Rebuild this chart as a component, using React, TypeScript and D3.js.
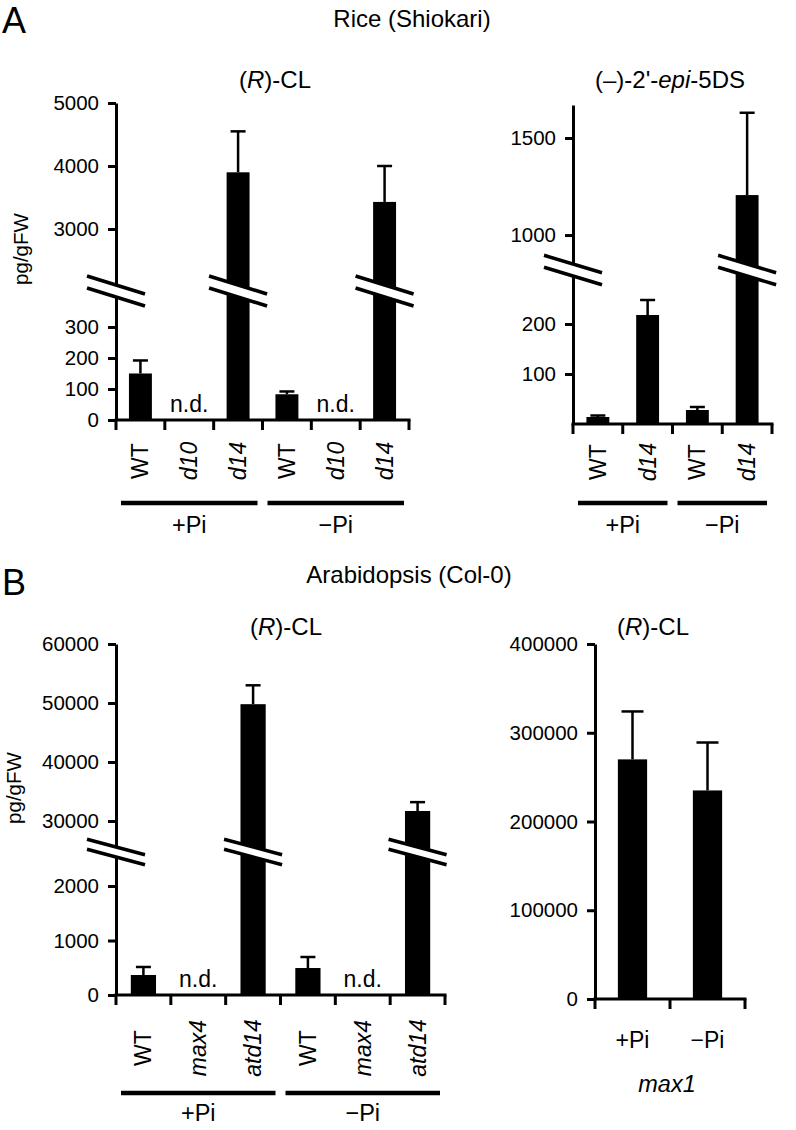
import React, { useEffect, useRef } from "react";
import * as d3 from "d3";

const FONT = "'Liberation Sans', Arial, Helvetica, sans-serif";

// ---- data (pg/gFW), null = n.d.
const groups = ["+Pi", "\u2212Pi"];

const riceCLCats = ["WT", "d10", "d14", "WT", "d10", "d14"];
const riceCL = [150, null, 3900, 83, null, 3430];
const riceCLErr = [192, null, 4550, 92, null, 4000];
const riceCLLowTicks = [0, 100, 200, 300];
const riceCLHighTicks = [3000, 4000, 5000];

const riceEpiCats = ["WT", "d14", "WT", "d14"];
const riceEpi = [14, 218, 28, 1206];
const riceEpiErr = [17, 248, 34, 1630];
const riceEpiLowTicks = [100, 200];
const riceEpiHighTicks = [1000, 1500];

const arabCLCats = ["WT", "max4", "atd14", "WT", "max4", "atd14"];
const arabCL = [367, null, 49800, 495, null, 31700];
const arabCLErr = [514, null, 53000, 697, null, 33200];
const arabCLLowTicks = [0, 1000, 2000];
const arabCLHighTicks = [30000, 40000, 50000, 60000];

const max1Cats = ["+Pi", "\u2212Pi"];
const max1CL = [270000, 235000];
const max1Err = [324000, 289000];
const max1Ticks = [0, 100000, 200000, 300000, 400000];

function YAxis({ scale, ticks, x }) {
  const ref = useRef(null);
  useEffect(() => {
    const g = d3.select(ref.current);
    g.call(
      d3.axisLeft(scale).tickValues(ticks).tickSize(8).tickSizeOuter(0).tickPadding(9).tickFormat(d3.format("d"))
    );
    g.attr("font-size", null).attr("font-family", null);
    g.selectAll("path, line").attr("stroke", "#000").attr("stroke-width", 3);
    g.selectAll("text").attr("fill", "#000");
  }, [scale, ticks]);
  return <g ref={ref} transform={`translate(${x},0)`} />;
}

function BreakMark({ cx, cy, half, slope, gap }) {
  const s = half * slope;
  const pts = [
    [cx - half, cy - s - gap / 2],
    [cx + half, cy + s - gap / 2],
    [cx + half, cy + s + gap / 2],
    [cx - half, cy - s + gap / 2],
  ];
  return (
    <g>
      <polygon points={pts.map((p) => p.join(",")).join(" ")} fill="#fff" />
      <line x1={pts[0][0]} y1={pts[0][1]} x2={pts[1][0]} y2={pts[1][1]} stroke="#000" strokeWidth={3.5} />
      <line x1={pts[3][0]} y1={pts[3][1]} x2={pts[2][0]} y2={pts[2][1]} stroke="#000" strokeWidth={3.5} />
    </g>
  );
}

function Panel(props) {
  const {
    cats, values, errs, xRange, yLow, yHigh, lowTicks, highTicks, brk,
    pad, capW, rotate, catY, groupY, groupLabelY,
  } = props;
  const idx = d3.range(cats.length);
  const xStep = d3.scaleBand().domain(idx).range(xRange);
  const xBar = d3.scaleBand().domain(idx).range(xRange).paddingInner(pad).paddingOuter(pad / 2);
  const lowMax = yLow.domain()[1];
  const y = (v) => (yHigh && v > lowMax ? yHigh(v) : yLow(v));
  const base = yLow(0);
  const axisX = xRange[0];
  const tall = idx.filter((i) => yHigh && values[i] != null && values[i] > lowMax);
  const half = cats.length / 2;

  return (
    <g>
      <YAxis scale={yLow} ticks={lowTicks} x={axisX} />
      {yHigh && <YAxis scale={yHigh} ticks={highTicks} x={axisX} />}
      {idx.map((i) =>
        values[i] == null ? (
          <text key={i} x={xStep(i) + xStep.bandwidth() / 2} y={base - 8} textAnchor="middle" fontSize={23}>
            n.d.
          </text>
        ) : (
          <g key={i}>
            <line
              x1={xBar(i) + xBar.bandwidth() / 2}
              x2={xBar(i) + xBar.bandwidth() / 2}
              y1={y(values[i])}
              y2={y(errs[i])}
              stroke="#000"
              strokeWidth={2.5}
            />
            <line
              x1={xBar(i) + xBar.bandwidth() / 2 - capW / 2}
              x2={xBar(i) + xBar.bandwidth() / 2 + capW / 2}
              y1={y(errs[i])}
              y2={y(errs[i])}
              stroke="#000"
              strokeWidth={2.5}
            />
            <rect x={xBar(i)} y={y(values[i])} width={xBar.bandwidth()} height={base - y(values[i])} fill="#000" />
          </g>
        )
      )}
      {/* x axis with ticks at category boundaries */}
      <line x1={axisX - 1.5} x2={xRange[1] + 1.5} y1={base} y2={base} stroke="#000" strokeWidth={3} />
      {[...idx.map((i) => xStep(i)), xRange[1]].map((t, k) => (
        <line key={k} x1={t} x2={t} y1={base} y2={base + 10} stroke="#000" strokeWidth={3} />
      ))}
      {brk && (
        <g>
          <BreakMark cx={axisX} cy={brk.y} half={29} slope={brk.slope} gap={brk.gap} />
          {tall.map((i) => (
            <BreakMark key={i} cx={xBar(i) + xBar.bandwidth() / 2} cy={brk.y} half={29} slope={brk.slope} gap={brk.gap} />
          ))}
        </g>
      )}
      {idx.map((i) => {
        const cx = xStep(i) + xStep.bandwidth() / 2;
        const it = cats[i] !== "WT" && !groups.includes(cats[i]);
        return rotate ? (
          <text
            key={i}
            transform={`translate(${cx},${catY}) rotate(-90)`}
            dy="0.35em"
            textAnchor="middle"
            fontSize={23}
            fontStyle={it ? "italic" : "normal"}
          >
            {cats[i]}
          </text>
        ) : (
          <text key={i} x={cx} y={catY} textAnchor="middle" fontSize={23}>
            {cats[i]}
          </text>
        );
      })}
      {groupY != null &&
        groups.map((gname, k) => {
          const a = xStep(k * half);
          const b = xStep(k * half + half - 1) + xStep.bandwidth();
          return (
            <g key={gname}>
              <line x1={a + 5} x2={b - 5} y1={groupY} y2={groupY} stroke="#000" strokeWidth={4.5} />
              <text x={(a + b) / 2} y={groupLabelY} textAnchor="middle" fontSize={23.5}>
                {gname}
              </text>
            </g>
          );
        })}
    </g>
  );
}

export default function App() {
  // Panel A left
  const aLow = d3.scaleLinear().domain([0, 416]).range([420, 291]);
  const aHigh = d3.scaleLinear().domain([2016, 5000]).range([291, 103]);
  // Panel A right
  const a2Low = d3.scaleLinear().domain([0, 308]).range([424, 270]);
  const a2High = d3.scaleLinear().domain([820, 1670]).range([270, 105]);
  // Panel B left
  const bLow = d3.scaleLinear().domain([0, 2624]).range([995, 852]);
  const bHigh = d3.scaleLinear().domain([24750, 60000]).range([852, 644]);
  // Panel B right
  const b2 = d3.scaleLinear().domain([0, 400000]).range([999, 644]);

  return (
    <div style={{ position: "absolute", left: 0, top: 0 }}>
      <svg width={796} height={1130} style={{ display: "block", background: "#fff" }} fontFamily={FONT} fill="#000">
        <rect width={796} height={1130} fill="#fff" />
        {/* Panel A */}
        <text x={2} y={33} fontSize={36}>A</text>
        <text x={412} y={27} textAnchor="middle" fontSize={24}>Rice (Shiokari)</text>
        <text x={275} y={88} textAnchor="middle" fontSize={24}>
          (<tspan fontStyle="italic">R</tspan>)-CL
        </text>
        <text x={670} y={88} textAnchor="middle" fontSize={24}>
          (–)-2'-<tspan fontStyle="italic">epi</tspan>-5DS
        </text>
        <text transform="translate(28,249) rotate(-90)" textAnchor="middle" fontSize={20.5}>pg/gFW</text>
        <g fontSize={20.5}>
          <Panel
            cats={riceCLCats}
            values={riceCL}
            errs={riceCLErr}
            xRange={[116, 409]}
            yLow={aLow}
            yHigh={aHigh}
            lowTicks={riceCLLowTicks}
            highTicks={riceCLHighTicks}
            brk={{ y: 291, slope: 0.31, gap: 12 }}
            pad={0.53}
            capW={15}
            rotate
            catY={461}
            groupY={503}
            groupLabelY={533}
          />
          <Panel
            cats={riceEpiCats}
            values={riceEpi}
            errs={riceEpiErr}
            xRange={[573, 772]}
            yLow={a2Low}
            yHigh={a2High}
            lowTicks={riceEpiLowTicks}
            highTicks={riceEpiHighTicks}
            brk={{ y: 270, slope: 0.3, gap: 12 }}
            pad={0.54}
            capW={15}
            rotate
            catY={462}
            groupY={503}
            groupLabelY={533}
          />
        </g>

        {/* Panel B */}
        <text x={2} y={595} fontSize={36}>B</text>
        <text x={409} y={583} textAnchor="middle" fontSize={24}>Arabidopsis (Col-0)</text>
        <text x={286} y={635} textAnchor="middle" fontSize={24}>
          (<tspan fontStyle="italic">R</tspan>)-CL
        </text>
        <text x={653} y={635} textAnchor="middle" fontSize={24}>
          (<tspan fontStyle="italic">R</tspan>)-CL
        </text>
        <text transform="translate(21,788) rotate(-90)" textAnchor="middle" fontSize={20.5}>pg/gFW</text>
        <g fontSize={20.5}>
          <Panel
            cats={arabCLCats}
            values={arabCL}
            errs={arabCLErr}
            xRange={[116, 445]}
            yLow={bLow}
            yHigh={bHigh}
            lowTicks={arabCLLowTicks}
            highTicks={arabCLHighTicks}
            brk={{ y: 852, slope: 0.265, gap: 10 }}
            pad={0.54}
            capW={15}
            rotate
            catY={1048}
            groupY={1093}
            groupLabelY={1121}
          />
          <Panel
            cats={max1Cats}
            values={max1CL}
            errs={max1Err}
            xRange={[595, 745]}
            yLow={b2}
            yHigh={null}
            lowTicks={max1Ticks}
            highTicks={[]}
            brk={null}
            pad={0.61}
            capW={22}
            rotate={false}
            catY={1048}
            groupY={null}
            groupLabelY={null}
          />
        </g>
        <text x={667} y={1092} textAnchor="middle" fontSize={23.5} fontStyle="italic">max1</text>
      </svg>
    </div>
  );
}
